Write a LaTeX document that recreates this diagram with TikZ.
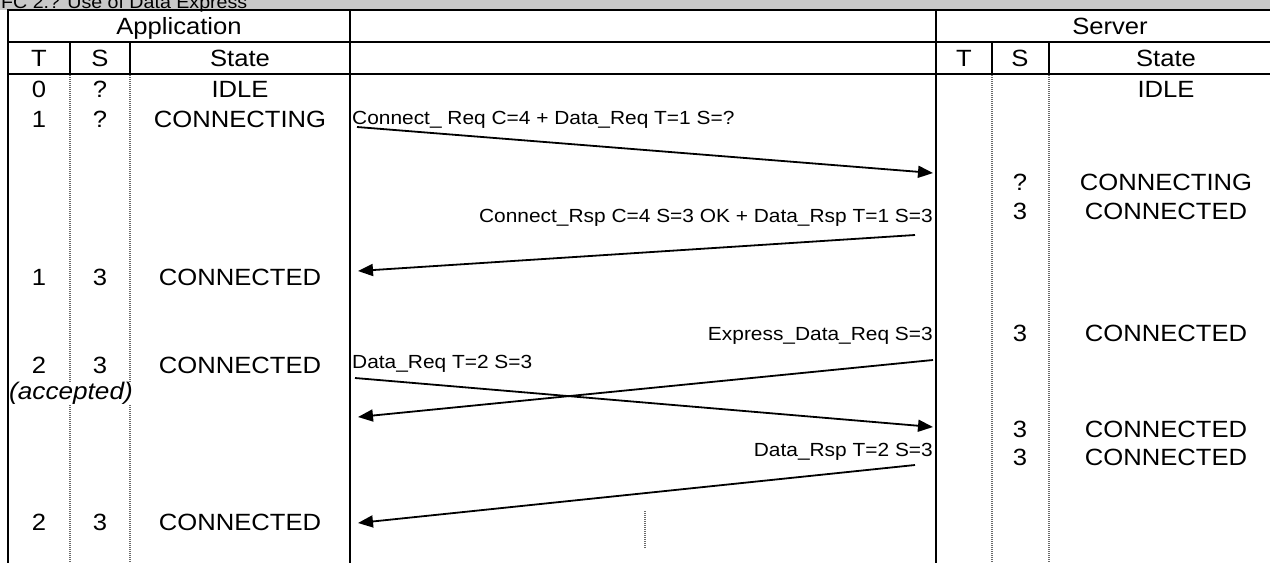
\documentclass[tikz,border=0pt]{standalone}
\usepackage{fontspec}
\usepackage{graphicx}
\setmainfont{Liberation Sans}
\usetikzlibrary{arrows.meta}
\newcommand{\hstr}[1]{\scalebox{1.09}[1]{#1}}
\newcommand{\lstr}[1]{\scalebox{1.10}[1]{#1}}
\definecolor{titlegray}{RGB}{200,200,200}
\definecolor{dotgray}{RGB}{105,105,105}
\begin{document}
\begin{tikzpicture}[x=1pt,y=-1pt,
  rule/.style={line width=2pt,black},
  dotrule/.style={line width=1.4pt,dotgray,dash pattern=on 1pt off 1pt},
  cell/.style={inner sep=0pt,anchor=base,font=\fontsize{23.5}{27}\selectfont},
  lbl/.style={inner sep=0pt,font=\fontsize{19}{22}\selectfont},
  msg/.style={line width=1.8pt,black,-{Triangle[length=15pt,width=12pt]}}]
\useasboundingbox (0,0) rectangle (1270,563);
\clip (0,0) rectangle (1270,563);
% title strip
\fill[titlegray] (0,0) rectangle (1270,9.5);
\node[inner sep=0pt,anchor=base west,font=\fontsize{18}{21}\selectfont] (title) at (1,8) {\hstr{FC 2.? Use of Data Express}};
% table rules
\draw[rule] (7,10) -- (1270,10);
\draw[rule] (7,42) -- (1270,42);
\draw[rule] (7,74) -- (1270,74);
\draw[rule] (8,9) -- (8,563);
\draw[rule] (350,9) -- (350,563);
\draw[rule] (936,9) -- (936,563);
\foreach \xx in {70,130,992,1049}{
  \draw[rule] (\xx,42) -- (\xx,74);
  \draw[dotrule] (\xx,75) -- (\xx,563);
}
\draw[dotrule] (645,511) -- (645,548);
% headers
\node[cell] (happ) at (179,34) {\hstr{Application}};
\node[cell] (hsrv) at (1110,34) {\hstr{Server}};
\node[cell] (hat) at (39,66) {\hstr{T}};
\node[cell] (has) at (100,66) {\hstr{S}};
\node[cell] (hast) at (240,66) {\hstr{State}};
\node[cell] (hst) at (964,66) {\hstr{T}};
\node[cell] (hss) at (1020,66) {\hstr{S}};
\node[cell] (hsst) at (1166,66) {\hstr{State}};
% application rows
\node[cell] (a0t) at (39,97) {\hstr{0}};
\node[cell] (a0s) at (100,97) {\hstr{?}};
\node[cell] (a0st) at (240,97) {\hstr{IDLE}};
\node[cell] (a1t) at (39,127) {\hstr{1}};
\node[cell] (a1s) at (100,127) {\hstr{?}};
\node[cell] (a1st) at (240,127) {\hstr{CONNECTING}};
\node[cell] (a2t) at (39,285) {\hstr{1}};
\node[cell] (a2s) at (100,285) {\hstr{3}};
\node[cell] (a2st) at (240,285) {\hstr{CONNECTED}};
\node[cell] (a3t) at (39,373) {\hstr{2}};
\node[cell] (a3s) at (100,373) {\hstr{3}};
\node[cell] (a3st) at (240,373) {\hstr{CONNECTED}};
\node[cell,anchor=base west,fill=white,font=\fontsize{24}{27}\selectfont\itshape] (acc) at (9,399) {\hstr{(accepted)}};
\node[cell] (a4t) at (39,530) {\hstr{2}};
\node[cell] (a4s) at (100,530) {\hstr{3}};
\node[cell] (a4st) at (240,530) {\hstr{CONNECTED}};
% server rows
\node[cell] (s0st) at (1166,97) {\hstr{IDLE}};
\node[cell] (s1s) at (1020,190) {\hstr{?}};
\node[cell] (s1st) at (1166,190) {\hstr{CONNECTING}};
\node[cell] (s2s) at (1020,219) {\hstr{3}};
\node[cell] (s2st) at (1166,219) {\hstr{CONNECTED}};
\node[cell] (s3s) at (1020,341) {\hstr{3}};
\node[cell] (s3st) at (1166,341) {\hstr{CONNECTED}};
\node[cell] (s4s) at (1020,437) {\hstr{3}};
\node[cell] (s4st) at (1166,437) {\hstr{CONNECTED}};
\node[cell] (s5s) at (1020,465) {\hstr{3}};
\node[cell] (s5st) at (1166,465) {\hstr{CONNECTED}};
% messages
\coordinate (m1s) at (357,127); \coordinate (m1e) at (933,173);
\coordinate (m2s) at (915,235); \coordinate (m2e) at (358,271);
\coordinate (m3s) at (933,360); \coordinate (m3e) at (358,417);
\coordinate (m4s) at (355,378); \coordinate (m4e) at (933,427);
\coordinate (m5s) at (915,465); \coordinate (m5e) at (358,523);
\draw[msg] (m1s) -- (m1e);
\draw[msg] (m2s) -- (m2e);
\draw[msg] (m3s) -- (m3e);
\draw[msg] (m4s) -- (m4e);
\draw[msg] (m5s) -- (m5e);
\node[lbl,anchor=base west] (l1) at (352,124) {\lstr{Connect\_ Req C=4 + Data\_Req T=1 S=?}};
\node[lbl,anchor=base east] (l2) at (933,222) {\lstr{Connect\_Rsp C=4 S=3 OK + Data\_Rsp T=1 S=3}};
\node[lbl,anchor=base east] (l3) at (933,340) {\lstr{Express\_Data\_Req S=3}};
\node[lbl,anchor=base west] (l4) at (352,368) {\lstr{Data\_Req T=2 S=3}};
\node[lbl,anchor=base east] (l5) at (933,456) {\lstr{Data\_Rsp T=2 S=3}};
\end{tikzpicture}
\end{document}
